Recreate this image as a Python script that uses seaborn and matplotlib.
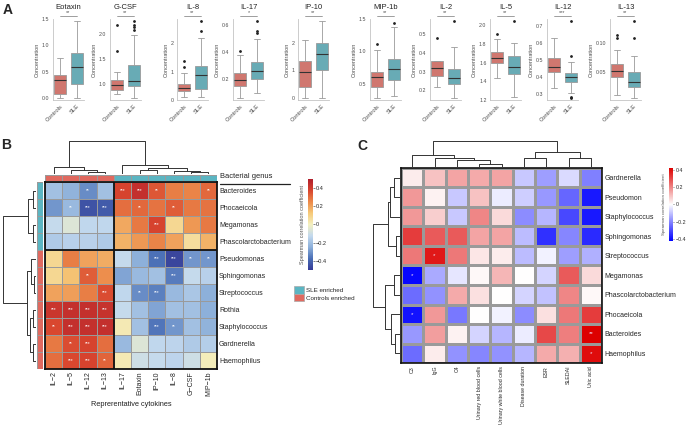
import numpy as np
import pandas as pd
import matplotlib
matplotlib.use('Agg')
import matplotlib.pyplot as plt
import seaborn as sns
from matplotlib.colors import LinearSegmentedColormap, ListedColormap
from matplotlib.patches import Patch
from matplotlib.lines import Line2D

W, H = 696, 436

# ---------------- panel A: box summaries ----------------
cytokines = ['Eotaxin', 'G-CSF', 'IL-8', 'IL-17', 'IP-10',
             'MIP-1b', 'IL-2', 'IL-5', 'IL-12', 'IL-13']
# [whisker low, q1, median, q3, whisker high]
ctrl_stats = [[0.0, 0.07, 0.34, 0.44, 0.76],
              [0.81, 0.89, 0.98, 1.09, 1.24],
              [0.12, 0.32, 0.44, 0.58, 0.95],
              [0.065, 0.15, 0.195, 0.245, 0.38],
              [0.0, 0.40, 0.93, 1.35, 2.10],
              [0.28, 0.45, 0.60, 0.68, 1.02],
              [0.22, 0.277, 0.32, 0.357, 0.48],
              [1.44, 1.60, 1.645, 1.71, 1.85],
              [0.337, 0.43, 0.46, 0.51, 0.63],
              [0.009, 0.041, 0.051, 0.063, 0.087]]
sle_stats = [[0.0, 0.26, 0.59, 0.86, 1.46],
             [0.73, 0.96, 1.06, 1.375, 1.97],
             [0.10, 0.40, 0.87, 1.20, 2.20],
             [0.10, 0.205, 0.265, 0.33, 0.50],
             [0.0, 1.0, 1.61, 2.0, 2.80],
             [0.31, 0.55, 0.72, 0.88, 1.37],
             [0.16, 0.236, 0.265, 0.315, 0.43],
             [1.23, 1.48, 1.55, 1.67, 1.81],
             [0.305, 0.37, 0.40, 0.425, 0.49],
             [0.005, 0.024, 0.032, 0.05, 0.077]]
ctrl_out = [[], [1.66, 2.18], [1.15, 1.37], [0.41], [], [1.12], [], [1.90], [], [0.109, 0.114]]
sle_out = [[], [2.08, 2.13, 2.18, 2.25], [2.45, 2.78], [0.54, 0.56, 0.63], [], [1.44],
           [0.57], [2.04], [0.285, 0.28, 0.52, 0.725], [0.109, 0.137]]
signif_a = ['**', '**', '**', '*', '**', '**', '**', '**', '***', '**']
yticks_a = [[0.0, 0.5, 1.0, 1.5], [1.0, 1.5, 2.0], [0, 1, 2], [0.2, 0.4, 0.6], [0, 1, 2],
            [0.5, 1.0, 1.5], [0.2, 0.3, 0.4, 0.5], [1.2, 1.4, 1.6, 1.8, 2.0],
            [0.3, 0.4, 0.5, 0.6, 0.7], [0.05, 0.10]]
ylabels_a = [['0.0', '0.5', '1.0', '1.5'], ['1.0', '1.5', '2.0'], ['0', '1', '2'],
             ['0.2', '0.4', '0.6'], ['0', '1', '2'], ['0.5', '1.0', '1.5'],
             ['0.2', '0.3', '0.4', '0.5'], ['1.2', '1.4', '1.6', '1.8', '2.0'],
             ['0.3', '0.4', '0.5', '0.6', '0.7'], ['0.05', '0.10']]
groups = ['Controls', 'SLE']

# ---------------- panel B ----------------
b_cols = ['IL\u22122', 'IL\u22125', 'IL\u221212', 'IL\u221213', 'IL\u221217', 'Eotaxin',
          'IP\u221210', 'IL\u22128', 'G\u2212CSF', 'MIP\u22121b']
b_rows = ['Bacteroides', 'Phocaeicola', 'Megamonas', 'Phascolarctobacterium', 'Pseudomonas',
          'Sphingomonas', 'Streptococcus', 'Rothia', 'Staphylococcus', 'Gardnerella', 'Haemophilus']
b_vals = [[-0.20, -0.24, -0.32, -0.20, 0.38, 0.44, 0.34, 0.27, 0.26, 0.31],
          [-0.30, -0.22, -0.44, -0.42, 0.30, 0.31, 0.29, 0.33, 0.28, 0.29],
          [-0.12, -0.06, -0.13, -0.13, 0.19, 0.28, 0.38, 0.08, 0.22, 0.28],
          [-0.17, -0.15, -0.15, -0.17, 0.17, 0.22, 0.26, 0.20, 0.06, 0.17],
          [0.08, 0.27, 0.20, 0.18, -0.12, -0.25, -0.37, -0.47, -0.30, -0.30],
          [0.08, 0.14, 0.33, 0.24, -0.27, -0.22, -0.20, -0.35, -0.12, -0.15],
          [0.20, 0.21, 0.27, 0.36, -0.13, -0.32, -0.34, -0.22, -0.18, -0.25],
          [0.42, 0.44, 0.44, 0.43, -0.12, -0.20, -0.27, -0.20, -0.20, -0.25],
          [0.37, 0.44, 0.44, 0.44, 0.02, -0.20, -0.36, -0.30, -0.20, -0.24],
          [0.28, 0.36, 0.38, 0.30, -0.22, -0.06, -0.13, -0.14, -0.17, -0.16],
          [0.30, 0.37, 0.38, 0.32, 0.02, -0.10, -0.12, -0.14, -0.10, 0.01]]
b_sig = [['', '', '**', '', '***', '***', '**', '', '', '**'],
         ['', '**', '***', '***', '', '**', '', '**', '', ''],
         ['', '', '', '', '', '', '***', '', '', ''],
         ['', '', '', '', '', '', '', '', '', ''],
         ['', '', '', '', '', '', '***', '***', '**', '**'],
         ['', '', '**', '', '', '', '', '***', '', ''],
         ['', '', '', '***', '', '**', '***', '', '', ''],
         ['***', '***', '***', '***', '', '', '', '', '', ''],
         ['**', '***', '***', '***', '', '', '***', '**', '', ''],
         ['', '**', '***', '', '', '', '', '', '', ''],
         ['', '***', '***', '**', '', '', '', '', '', '']]
b_col_group = ['Controls enriched'] * 4 + ['SLE enriched'] * 6
b_row_group = ['SLE enriched'] * 4 + ['Controls enriched'] * 7
# merges: (a, b, height); ids >= n are earlier merges
b_col_merges = [(2, 3, 0.07), (1, 10, 0.13), (0, 11, 0.20), (8, 9, 0.06), (7, 13, 0.10),
                (5, 6, 0.12), (15, 14, 0.18), (4, 16, 0.28), (12, 17, 1.0)]
b_row_merges = [(0, 1, 0.09), (2, 3, 0.09), (11, 12, 0.25), (5, 6, 0.07), (4, 14, 0.15),
                (7, 8, 0.10), (9, 10, 0.08), (16, 17, 0.18), (15, 18, 0.28), (13, 19, 1.0)]

# ---------------- panel C ----------------
c_cols = ['C3', 'IgG', 'C4', 'Urinary red blood cells', 'Urinary white blood cells',
          'Disease duration', 'ESR', 'SLEDAI', 'Uric acid']
c_rows = ['Gardnerella', 'Pseudomon', 'Staphylococcus', 'Sphingomonas', 'Streptococcus',
          'Megamonas', 'Phascolarctobacterium', 'Phocaeicola', 'Bacteroides', 'Haemophilus']
c_vals = [[0.03, 0.10, 0.15, 0.14, 0.15, -0.09, -0.16, -0.06, -0.21],
          [0.17, 0.02, -0.09, 0.10, -0.03, -0.08, -0.17, -0.25, -0.38],
          [0.17, 0.08, -0.09, 0.20, 0.06, -0.19, -0.12, -0.30, -0.38],
          [0.32, 0.27, 0.27, 0.15, 0.15, -0.11, -0.34, -0.20, -0.35],
          [0.22, 0.38, 0.22, 0.04, 0.03, -0.11, -0.02, -0.16, -0.13],
          [-0.41, -0.14, -0.04, 0.01, 0.12, 0.00, -0.07, 0.27, 0.06],
          [-0.24, -0.18, 0.14, 0.05, 0.00, -0.07, -0.10, 0.20, 0.01],
          [-0.39, 0.17, -0.22, 0.00, -0.02, -0.19, 0.05, 0.22, 0.32],
          [-0.17, 0.16, 0.02, -0.07, -0.12, -0.03, 0.30, 0.21, 0.42],
          [-0.24, 0.03, -0.18, -0.20, -0.18, -0.12, 0.14, 0.13, 0.40]]
c_sig = [[''] * 9 for _ in range(10)]
c_sig[4][1] = '*'
c_sig[5][0] = '*'
c_sig[7][0] = '*'
c_sig[8][8] = '**'
c_sig[9][8] = '*'
c_col_merges = [(3, 4, 0.12), (2, 9, 0.27), (1, 10, 0.35), (0, 11, 0.46), (5, 6, 0.35),
                (7, 8, 0.35), (13, 14, 0.58), (12, 15, 1.0)]
c_row_merges = [(0, 1, 0.22), (10, 2, 0.36), (3, 4, 0.16), (11, 12, 0.45), (5, 6, 0.22),
                (8, 9, 0.18), (7, 15, 0.32), (14, 16, 0.56), (13, 17, 1.0)]

RED = '#E0695F'
TEAL = '#5BB5C2'


def rect(x0, y0, x1, y1):
    return [x0 / W, 1 - y1 / H, (x1 - x0) / W, (y1 - y0) / H]


def expand(stats, outs):
    # small sample whose quartiles/whiskers equal the summary
    lo, q1, med, q3, hi = stats
    below = [o for o in outs if o < q1] + [lo]
    above = [hi] + [o for o in outs if o > q3]
    m = max(len(below), len(above))
    below += [lo] * (m - len(below))
    above += [hi] * (m - len(above))
    return below + [q1] * m + [med] + [q3] * m + above


def dendro(ax, merges, n, orient):
    pos = {i: i + 0.5 for i in range(n)}
    hgt = {i: 0.0 for i in range(n)}
    for k, (a, b, h) in enumerate(merges):
        xs = [pos[a], pos[a], pos[b], pos[b]]
        ys = [hgt[a], h, h, hgt[b]]
        if orient == 'top':
            ax.plot(xs, ys, color='#333333', lw=0.7)
        else:
            ax.plot(ys, xs, color='#333333', lw=0.7)
        pos[n + k] = (pos[a] + pos[b]) / 2
        hgt[n + k] = h
    if orient == 'top':
        ax.set_xlim(0, n)
        ax.set_ylim(0, 1.04)
    else:
        ax.set_ylim(n, 0)
        ax.set_xlim(1.04, 0)
    ax.axis('off')


sns.set_theme(style='white')
plt.rcParams['font.family'] = ['Liberation Sans', 'DejaVu Sans']
fig = plt.figure(figsize=(W / 100, H / 100), dpi=100)

# ---------------- A ----------------
a_left = [53, 110, 177, 233, 298, 370, 430, 490, 547, 610]
for i, name in enumerate(cytokines):
    ax = fig.add_axes(rect(a_left[i], 19, a_left[i] + 31, 100))
    vc = expand(ctrl_stats[i], ctrl_out[i])
    vs = expand(sle_stats[i], sle_out[i])
    df = pd.DataFrame({'group': ['Controls'] * len(vc) + ['SLE'] * len(vs),
                       'value': vc + vs})
    sns.boxplot(data=df, x='group', y='value', hue='group', order=groups,
                palette={'Controls': RED, 'SLE': TEAL}, ax=ax, width=0.72,
                linewidth=0.6, linecolor='#9a9a9a', fliersize=1.0, legend=False,
                flierprops=dict(marker='o', markerfacecolor='#222222', markeredgecolor='#222222'),
                medianprops=dict(color='#333333', linewidth=0.8))
    lo = min(vc + vs)
    hi = max(vc + vs)
    pad = 0.03 * (hi - lo)
    ax.set_ylim(lo - pad, max(hi + pad, max(yticks_a[i])))
    ax.set_yticks(yticks_a[i])
    ax.set_yticklabels(ylabels_a[i])
    ax.set_xticks([0, 1])
    ax.set_xticklabels(groups, rotation=45, ha='right', rotation_mode='anchor')
    ax.tick_params(axis='both', labelsize=3.8, length=1.5, width=0.4, pad=1,
                   colors='#bdbdbd', labelcolor='#4d4d4d')
    ax.tick_params(axis='x', labelsize=4.2)
    sns.despine(ax=ax)
    for s in ['left', 'bottom']:
        ax.spines[s].set_color('#c4c4c4')
        ax.spines[s].set_linewidth(0.6)
    ax.set_xlabel('')
    ax.set_ylabel('Concentration', fontsize=4, color='#4d4d4d', labelpad=1.5)
    ax.set_title(name, fontsize=5.5, pad=7, color='#222222')
    tr = ax.get_xaxis_transform()
    ax.plot([0, 1], [1.04, 1.04], transform=tr, color='#777777', lw=0.5, clip_on=False)
    ax.text(0.5, 1.045, signif_a[i], transform=tr, ha='center', va='bottom',
            fontsize=4, color='#555555')

# ---------------- B ----------------
cmap_b = LinearSegmentedColormap.from_list(
    'b', ['#353a96', '#4a6fb6', '#8db0da', '#c3d9ee', '#f4f0c0', '#f6c978',
          '#ec8a4a', '#d8452e', '#b01e2c'])
grp_cmap = ListedColormap([RED, TEAL])
grp_code = {'Controls enriched': 0, 'SLE enriched': 1}

axB = fig.add_axes(rect(45, 182, 217, 369))
caxB = fig.add_axes(rect(308, 179, 313, 270))
bdf = pd.DataFrame(b_vals, index=b_rows, columns=b_cols)
sns.heatmap(bdf, ax=axB, cmap=cmap_b, vmin=-0.5, vmax=0.5, linewidths=0.6,
            linecolor='#9a9a9a', cbar_ax=caxB, annot=np.array(b_sig), fmt='',
            annot_kws={'fontsize': 3.5, 'color': 'white'})
axB.yaxis.tick_right()
axB.set_yticklabels(b_rows, rotation=0, fontsize=5)
axB.set_xticklabels(b_cols, rotation=90, fontsize=5)
axB.tick_params(length=0, pad=1.5)
axB.set_ylabel('')
axB.set_xlabel('Reprerentative cytokines', fontsize=5.3, labelpad=4, color='#222222')
axB.axvline(4, color='#111111', lw=1.3)
axB.axhline(4, color='#111111', lw=1.3)
for s in axB.spines.values():
    s.set_visible(True)
    s.set_color('#111111')
    s.set_linewidth(1.3)
cbB = axB.collections[0].colorbar
cbB.outline.set_visible(False)
cbB.set_ticks([-0.4, -0.2, 0, 0.2, 0.4])
cbB.set_ticklabels(['\u22120.4', '\u22120.2', '0', '0.2', '0.4'])
caxB.tick_params(labelsize=4, length=1.2, width=0.4, pad=1)
caxB.set_ylabel('Spearman correlation coefficient', fontsize=4, color='#555555', labelpad=2)
caxB.yaxis.set_label_position('left')

axBc = fig.add_axes(rect(45, 175, 217, 181))
sns.heatmap(np.array([[grp_code[g] for g in b_col_group]]), ax=axBc, cmap=grp_cmap,
            vmin=0, vmax=1, cbar=False, linewidths=0.6, linecolor='#9a9a9a',
            xticklabels=False, yticklabels=False)
axBr = fig.add_axes(rect(37, 182, 43, 369))
sns.heatmap(np.array([[grp_code[g]] for g in b_row_group]), ax=axBr, cmap=grp_cmap,
            vmin=0, vmax=1, cbar=False, linewidths=0.6, linecolor='#9a9a9a',
            xticklabels=False, yticklabels=False)

dendro(fig.add_axes(rect(45, 140, 217, 174)), b_col_merges, len(b_cols), 'top')
dendro(fig.add_axes(rect(2, 182, 36, 369)), b_row_merges, len(b_rows), 'left')

fig.text(220 / W, 1 - 176 / H, 'Bacterial genus', fontsize=5.4, va='center', color='#222222')
fig.add_artist(Line2D([220 / W, 290 / W], [1 - 184 / H, 1 - 184 / H], color='#222222', lw=0.9))
fig.legend(handles=[Patch(facecolor=TEAL, edgecolor='#aaaaaa', lw=0.5, label='SLE enriched'),
                    Patch(facecolor=RED, edgecolor='#aaaaaa', lw=0.5, label='Controls enriched')],
           loc='upper left', bbox_to_anchor=(294 / W, 1 - 286 / H), frameon=False,
           fontsize=4.5, handlelength=1.6, handleheight=1.5, handletextpad=0.3,
           labelspacing=0.0, borderpad=0, borderaxespad=0)

# ---------------- C ----------------
cmap_c = LinearSegmentedColormap.from_list('c', ['#0000ff', '#ffffff', '#dd0000'])
axC = fig.add_axes(rect(401, 168, 602, 363))
caxC = fig.add_axes(rect(669, 168, 673, 241))
cdf = pd.DataFrame(c_vals, index=c_rows, columns=c_cols)
sns.heatmap(cdf, ax=axC, cmap=cmap_c, vmin=-0.42, vmax=0.42, linewidths=0.8,
            linecolor='#9a9a9a', cbar_ax=caxC, annot=np.array(c_sig), fmt='',
            annot_kws={'fontsize': 4.5, 'color': '#f0d8f0'})
axC.yaxis.tick_right()
axC.set_yticklabels(c_rows, rotation=0, fontsize=5)
axC.set_xticklabels(c_cols, rotation=90, fontsize=3.8)
axC.tick_params(length=0, pad=2)
axC.set_xlabel('')
axC.set_ylabel('')
for s in axC.spines.values():
    s.set_visible(True)
    s.set_color('#111111')
    s.set_linewidth(1.2)
cbC = axC.collections[0].colorbar
cbC.outline.set_visible(False)
cbC.set_ticks([-0.4, -0.2, 0, 0.2, 0.4])
cbC.set_ticklabels(['\u22120.4', '\u22120.2', '0', '0.2', '0.4'])
caxC.tick_params(labelsize=3.8, length=1, width=0.4, pad=1)
caxC.set_ylabel('Spearman correlation coefficient', fontsize=3.2, color='#555555', labelpad=2)
caxC.yaxis.set_label_position('left')

dendro(fig.add_axes(rect(401, 140, 602, 167)), c_col_merges, len(c_cols), 'top')
dendro(fig.add_axes(rect(372, 168, 400, 363)), c_row_merges, len(c_rows), 'left')

# panel letters
fig.text(3 / W, 1 - 10 / H, 'A', fontsize=10, fontweight='bold', va='center')
fig.text(1 / W, 1 - 145 / H, 'B', fontsize=10, fontweight='bold', va='center')
fig.text(357 / W, 1 - 146 / H, 'C', fontsize=10, fontweight='bold', va='center')

fig.savefig('out.png', dpi=100, facecolor='white')
